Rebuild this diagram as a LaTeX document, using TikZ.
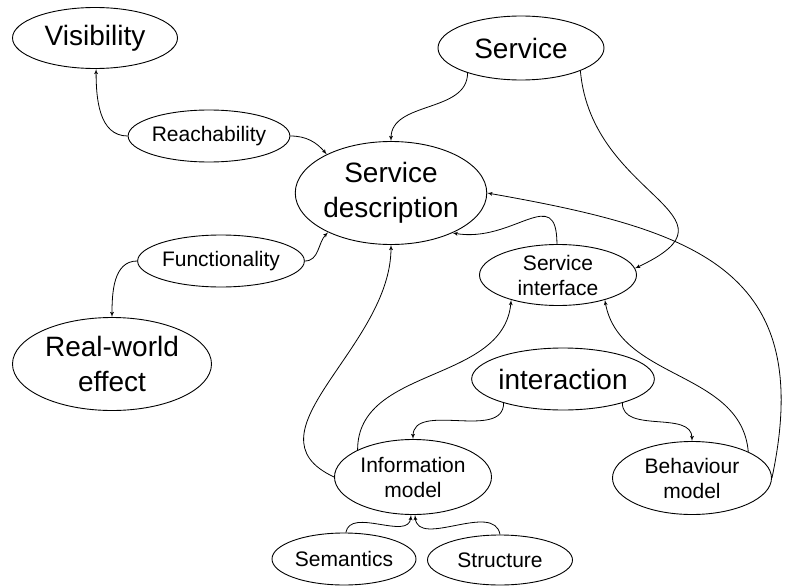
\documentclass[tikz,border=0pt]{standalone}
\usepackage{fontspec}
\setmainfont{Liberation Sans}
\usetikzlibrary{shapes,arrows}
\tikzstyle{major} = [ellipse, draw, line width=0.9pt, inner sep=0pt,
    align=center, font=\fontsize{28}{35}\selectfont]
\tikzstyle{minor} = [ellipse, draw, line width=0.9pt, inner sep=0pt,
    align=center, font=\fontsize{21}{25}\selectfont]
\tikzstyle{line} = [draw, line width=0.8pt, -latex']

\begin{document}
\begin{tikzpicture}[x=1pt, y=1pt]
    \useasboundingbox (0,0) rectangle (792,-586);
    % Place nodes
    \node [major, minimum width=165, minimum height=61] (visib) at (95,-38) {Visibility};
    \node [major, minimum width=166, minimum height=64] (service) at (521,-48) {Service};
    \node [minor, minimum width=147, minimum height=52] (reach) at (209,-136) {Reachability};
    \node [major, minimum width=177, minimum height=103] (descr) at (391,-193) {Service\\description};
    \node [minor, minimum width=148, minimum height=52] (func) at (221,-261) {Functionality};
    \node [major, minimum width=199, minimum height=93] (effect) at (112,-364) {Real-world\\effect};
    \node [minor, minimum width=157, minimum height=61] (iface) at (558,-275) {Service\\interface};
    \node [major, minimum width=168, minimum height=62] (interact) at (563,-379) {interaction};
    \node [minor, minimum width=157, minimum height=75] (info) at (413,-477) {Information\\model};
    \node [minor, minimum width=159, minimum height=73] (behav) at (692,-478) {Behaviour\\model};
    \node [minor, minimum width=144, minimum height=52] (sem) at (344,-559) {Semantics};
    \node [minor, minimum width=145, minimum height=50] (struct) at (500,-560) {Structure};
    % Draw edges
    \path [line] (reach.west) to[out=180, in=-90] (visib.-88);
    \path [line] (reach.east) to[out=0, in=130] (descr.149);
    \path [line] (func.east) to[out=0, in=-135] (descr.212);
    \path [line] (func.west) to[out=180, in=90] (effect.north);
    \path [line] (service.205) to[out=-90, in=90] (descr.north);
    \path [line] (service.-21) to[out=-85, in=25, looseness=1.6] (iface.5);
    \path [line] (iface.92) to[out=90, in=-10, looseness=1.5] (descr.-33);
    \path [line] (behav.east) to[out=78, in=-10, looseness=1.35] (descr.east);
    \path [line] (info.west) to[out=155, in=-90, looseness=1.1] (descr.south);
    \path [line] (info.154) to[out=90, in=-95] (iface.-152);
    \path [line] (behav.25) to[out=95, in=-80] (iface.-28);
    \path [line] (interact.202) to[out=-90, in=90] (info.north);
    \path [line] (interact.-22) to[out=-90, in=90] (behav.north);
    \path [line] (sem.86) to[out=80, in=-95] (info.-93);
    \path [line] (struct.north) to[out=100, in=-85] (info.-87);
\end{tikzpicture}
\end{document}
